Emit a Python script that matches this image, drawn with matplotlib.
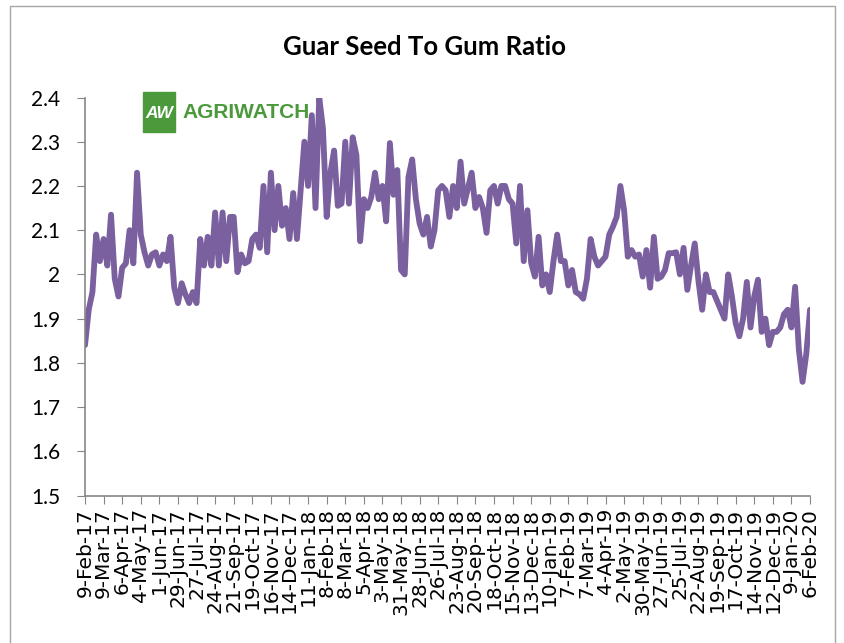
import matplotlib

matplotlib.use("Agg")
import matplotlib.pyplot as plt
import numpy as np
from matplotlib.patches import Rectangle

# guar seed / gum ratio, one reading every 4 trading days from 9-Feb-17
ratio = [
    1.84, 1.92, 1.96, 2.09, 2.03, 2.08, 2.02, 2.135, 1.99, 1.95,
    2.015, 2.025, 2.10, 2.025, 2.23, 2.09, 2.05, 2.02, 2.045, 2.05,
    2.02, 2.045, 2.03, 2.085, 1.97, 1.935, 1.98, 1.955, 1.935, 1.96,
    1.935, 2.08, 2.02, 2.085, 2.02, 2.14, 2.02, 2.14, 2.03, 2.13,
    2.13, 2.005, 2.045, 2.025, 2.03, 2.08, 2.09, 2.06, 2.20, 2.05,
    2.23, 2.10, 2.20, 2.11, 2.15, 2.08, 2.184, 2.08, 2.19, 2.30,
    2.20, 2.36, 2.15, 2.40, 2.33, 2.13, 2.23, 2.28, 2.155, 2.16,
    2.30, 2.16, 2.31, 2.27, 2.075, 2.17, 2.15, 2.175, 2.23, 2.17,
    2.20, 2.12, 2.297, 2.18, 2.236, 2.01, 2.00, 2.22, 2.26, 2.17,
    2.115, 2.09, 2.13, 2.063, 2.10, 2.19, 2.20, 2.19, 2.13, 2.20,
    2.15, 2.255, 2.16, 2.195, 2.23, 2.15, 2.175, 2.15, 2.094, 2.19,
    2.20, 2.16, 2.20, 2.20, 2.17, 2.16, 2.07, 2.20, 2.03, 2.145,
    2.026, 1.995, 2.085, 1.975, 2.00, 1.96, 2.03, 2.09, 2.03, 2.03,
    1.975, 2.01, 1.96, 1.955, 1.945, 1.99, 2.08, 2.04, 2.02, 2.03,
    2.04, 2.09, 2.108, 2.13, 2.20, 2.145, 2.04, 2.055, 2.04, 2.045,
    1.995, 2.055, 1.97, 2.085, 1.99, 1.995, 2.01, 2.048, 2.048, 2.05,
    2.00, 2.06, 1.965, 2.02, 2.07, 1.985, 1.92, 2.00, 1.96, 1.96,
    1.94, 1.92, 1.90, 2.00, 1.95, 1.89, 1.86, 1.90, 1.983, 1.88,
    1.95, 1.988, 1.87, 1.90, 1.84, 1.87, 1.87, 1.88, 1.91, 1.92,
    1.88, 1.972, 1.83, 1.757, 1.82, 1.92,
]
STEP = 4  # trading days between readings
tick_labels = [
    "9-Feb-17", "9-Mar-17", "6-Apr-17", "4-May-17", "1-Jun-17", "29-Jun-17",
    "27-Jul-17", "24-Aug-17", "21-Sep-17", "19-Oct-17", "16-Nov-17", "14-Dec-17",
    "11-Jan-18", "8-Feb-18", "8-Mar-18", "5-Apr-18", "3-May-18", "31-May-18",
    "28-Jun-18", "26-Jul-18", "23-Aug-18", "20-Sep-18", "18-Oct-18", "15-Nov-18",
    "13-Dec-18", "10-Jan-19", "7-Feb-19", "7-Mar-19", "4-Apr-19", "2-May-19",
    "30-May-19", "27-Jun-19", "25-Jul-19", "22-Aug-19", "19-Sep-19", "17-Oct-19",
    "14-Nov-19", "12-Dec-19", "9-Jan-20", "6-Feb-20",
]
TICK_EVERY = 20  # trading days between date labels
y_ticks = [1.5, 1.6, 1.7, 1.8, 1.9, 2.0, 2.1, 2.2, 2.3, 2.4]
y_tick_labels = ["1.5", "1.6", "1.7", "1.8", "1.9", "2", "2.1", "2.2", "2.3", "2.4"]

GREY = "#868686"
PURPLE = "#7B60A0"
GREEN = "#4A9A3B"

fig = plt.figure(figsize=(8.45, 6.43), dpi=100)
ax = fig.add_axes([85 / 845, 1 - 495.5 / 643, 725 / 845, 398 / 643])

x = np.arange(len(ratio)) * STEP
ax.plot(x, ratio, color=PURPLE, lw=4.2, solid_joinstyle="round",
        solid_capstyle="round")

ax.set_xlim(0, (len(tick_labels) - 1) * TICK_EVERY)
ax.set_ylim(1.5, 2.4)
ax.set_xticks(np.arange(len(tick_labels)) * TICK_EVERY)
ax.set_xticklabels(tick_labels, rotation=90, ha="center", va="top",
                   fontsize=14.5, family="DejaVu Sans")
ax.set_yticks(y_ticks)
ax.set_yticklabels(y_tick_labels, fontsize=15, family="Lato")

for s in ("top", "right"):
    ax.spines[s].set_visible(False)
for s in ("left", "bottom"):
    ax.spines[s].set_color(GREY)
    ax.spines[s].set_linewidth(1.2)
ax.tick_params(axis="y", length=6, color=GREY, pad=12)
ax.tick_params(axis="x", length=6, color=GREY, pad=3)

fig.text(425 / 845, 1 - 47 / 643, "Guar Seed To Gum Ratio", ha="center",
         va="center", fontsize=18.5, fontweight="bold", family="Lato")

# AGRIWATCH logo
fig.patches.append(Rectangle((143 / 845, 1 - 132 / 643), 32 / 845, 40 / 643,
                             transform=fig.transFigure, color=GREEN))
fig.text(159 / 845, 1 - 113 / 643, "AW", ha="center", va="center", color="white",
         fontsize=12.5, fontweight="bold", style="italic", family="Liberation Sans")
fig.text(182 / 845, 1 - 113 / 643, "AGRIWATCH", ha="left", va="center", color=GREEN,
         fontsize=15, fontweight="bold", family="Liberation Sans")

# chart-area border
fig.patches.append(Rectangle((10 / 845, -0.02), 825 / 845, 1.01, transform=fig.transFigure,
                             fill=False, ec="#A6A6A6", lw=1))

fig.savefig("out.png", dpi=100)
